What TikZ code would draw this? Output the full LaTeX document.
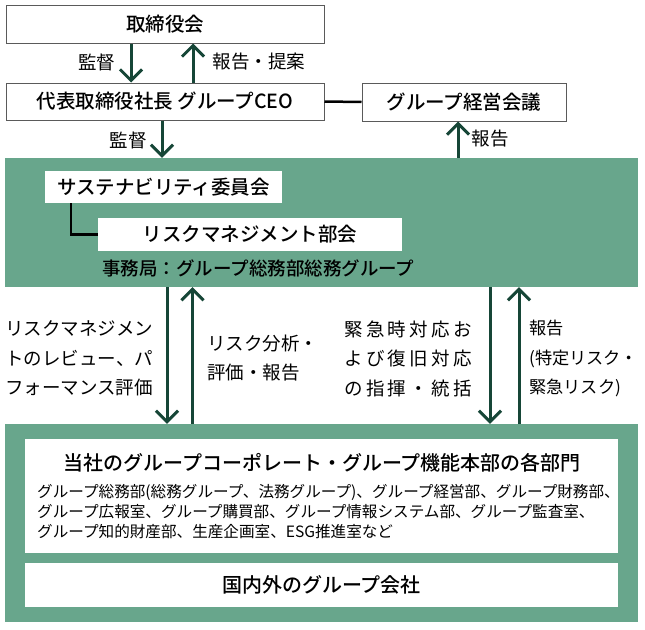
\documentclass[tikz,border=0pt]{standalone}
\usepackage{fontspec}
\setmainfont{Noto Sans CJK JP}
\newfontfamily\medfont{Noto Sans CJK JP Medium}
\newfontfamily\widefont{Noto Sans CJK JP}[LetterSpace=18]
\usepackage{xcolor}
\usetikzlibrary{arrows.meta}
\definecolor{bandgreen}{RGB}{104,166,140}
\definecolor{arrowgreen}{RGB}{22,70,55}
\definecolor{boxgray}{RGB}{90,90,90}

\begin{document}
\begin{tikzpicture}[x=1pt,y=-1pt,
  box/.style={draw=boxgray,line width=1pt,fill=white,inner sep=0pt,font=\medfont\fontsize{19.5}{24}\selectfont},
  band/.style={fill=bandgreen,inner sep=0pt},
  wbox/.style={fill=white,inner sep=0pt,font=\medfont\fontsize{19.5}{24}\selectfont},
  arr/.style={arrowgreen,line width=3pt,-{Straight Barb[length=11pt,width=22pt]}},
  lbl/.style={inner sep=0pt,font=\fontsize{18.5}{29.5}\selectfont,align=left}]
\useasboundingbox (0,0) rectangle (645,629);

% top boxes
\node [box,minimum width=318,minimum height=38] (board) at (165,24) {取締役会};
\node [box,minimum width=318,minimum height=37] (ceo) at (165,101.5) {代表取締役社長 グループCEO};
\node [box,minimum width=204,minimum height=38] (mgmt) at (464,102) {グループ経営会議};
\draw [black,line width=2.5pt] (ceo.east) -- (mgmt.west);

% upper green band
\node [band,minimum width=633,minimum height=129] (upper) at (321.5,222.5) {};
\node [wbox,minimum width=237,minimum height=32] (sus) at (163.5,187) {サステナビリティ委員会};
\node [wbox,minimum width=304,minimum height=33] (rmc) at (250,234.5) {リスクマネジメント部会};
\node [lbl,anchor=west,font=\medfont\fontsize{18.5}{24}\selectfont] (office) at (102,268) {事務局：グループ総務部総務グループ};
\draw [black,line width=2.5pt] ([xshift=26]sus.south west) |- (rmc.west);

% lower green band
\node [band,minimum width=633,minimum height=198] (lower) at (321.5,523) {};
\node [wbox,minimum width=593,minimum height=114] (dept) at (321.5,496) {};
\node [inner sep=0pt,font=\medfont\fontsize{20}{24}\selectfont] (depttitle) at (322,463) {当社のグループコーポレート・グループ機能本部の各部門};
\node [inner sep=0pt,anchor=west,align=left,font=\fontsize{15.6}{20}\selectfont] (deptlist) at (37,512)
  {グループ総務部(総務グループ、法務グループ)、グループ経営部、グループ財務部、\\
   グループ広報室、グループ購買部、グループ情報システム部、グループ監査室、\\
   グループ知的財産部、生産企画室、ESG推進室など};
\node [wbox,minimum width=593,minimum height=44,font=\medfont\fontsize{20}{24}\selectfont] (groupco) at (321.5,585) {国内外のグループ会社};

% arrows
\draw [arr] ([xshift=-34]board.south) -- ([xshift=-34]board.south |- ceo.north);
\draw [arr] ([xshift=28]ceo.north) -- ([xshift=28]ceo.north |- board.south);
\draw [arr] ([xshift=-3]ceo.south) -- ([xshift=-3]ceo.south |- upper.north);
\draw [arr] ([xshift=-6]mgmt.south |- upper.north) -- ([xshift=-6]mgmt.south);
\draw [arr] ([xshift=-154.5]upper.south) -- ([xshift=-154.5]lower.north);
\draw [arr] ([xshift=-129]lower.north) -- ([xshift=-129]upper.south);
\draw [arr] ([xshift=168.5]upper.south) -- ([xshift=168.5]lower.north);
\draw [arr] ([xshift=197.5]lower.north) -- ([xshift=197.5]upper.south);

% labels
\node [lbl] (sup1) at (96.5,62) {監督};
\node [lbl] (rep1) at (259,62) {報告・提案};
\node [lbl] (sup2) at (128,140) {監督};
\node [lbl] (rep2) at (490,139) {報告};
\node [lbl,anchor=west] (review) at (5,358.5) {リスクマネジメン\\トのレビュー、パ\\フォーマンス評価};
\node [lbl,anchor=west] (analysis) at (207,358) {リスク分析・\\評価・報告};
\node [lbl,anchor=west,font=\widefont\fontsize{18.5}{29.5}\selectfont] (emerg) at (344,358.5) {緊急時対応お\\よび復旧対応\\の指揮・統括};
\node [lbl,anchor=west,font=\fontsize{17.2}{29.5}\selectfont] (rep3) at (529,358.5) {報告\\(特定リスク・\\緊急リスク)};
\end{tikzpicture}
\end{document}
